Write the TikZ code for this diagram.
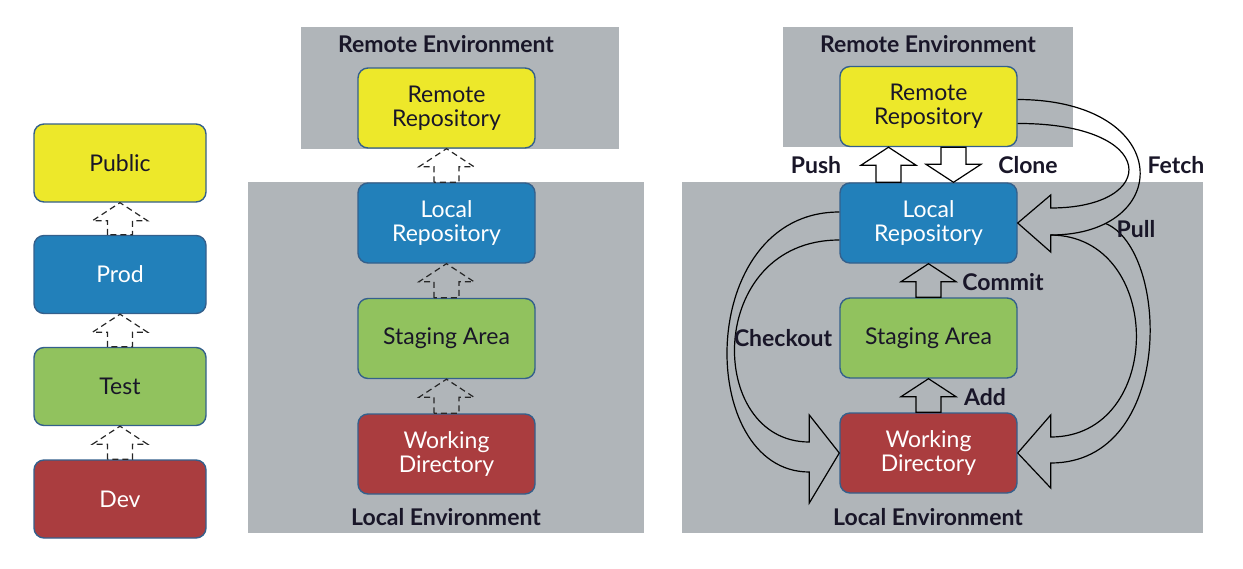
\documentclass[tikz,border=0pt]{standalone}
\usepackage{fontspec}
\setmainfont{Lato}
\usetikzlibrary{calc}
\definecolor{xYellow}{RGB}{237,232,42}
\definecolor{xBlue}{RGB}{34,128,186}
\definecolor{xGreen}{RGB}{145,194,94}
\definecolor{xRed}{RGB}{170,61,63}
\definecolor{xGray}{RGB}{176,181,185}
\definecolor{xEdge}{RGB}{52,96,140}
\definecolor{xInk}{RGB}{25,22,40}
\tikzset{
  stage/.style={draw=xEdge, line width=0.7pt, rounded corners=5pt, align=center, inner sep=2pt,
                minimum width=88.5pt, minimum height=40pt, font=\fontsize{11.5}{11.8}\selectfont},
  tier/.style={stage, minimum width=86pt, minimum height=39pt},
  yel/.style={fill=xYellow, text=xInk},
  blu/.style={fill=xBlue, text=white},
  grn/.style={fill=xGreen, text=xInk},
  rd/.style={fill=xRed, text=white},
  envbg/.style={fill=xGray},
  envlbl/.style={font=\fontsize{11.5}{12}\selectfont\bfseries, text=xInk},
  verb/.style={font=\fontsize{11.5}{12}\selectfont\bfseries, text=xInk},
  promote/.style={semithick, black!85, dash pattern=on 3pt off 2pt},
  cmd/.style={semithick},
  loopband/.style={semithick},
}
% hollow block arrow from #2 (tail) to #3 (tip)
\newcommand{\blockarrow}[3][]{%
  \path (#2) coordinate (ba-s) (#3) coordinate (ba-t)
        ($(ba-t)!9pt!(ba-s)$) coordinate (ba-h);
  \draw[#1] ($(ba-s)!6.25pt!90:(ba-t)$) -- ($(ba-h)!6.25pt!90:(ba-t)$)
        -- ($(ba-h)!13.75pt!90:(ba-t)$) -- (ba-t) -- ($(ba-h)!13.75pt!-90:(ba-t)$)
        -- ($(ba-h)!6.25pt!-90:(ba-t)$) -- ($(ba-s)!6.25pt!-90:(ba-t)$) -- cycle;%
}

\begin{document}
\begin{tikzpicture}[x=0.5pt, y=-0.5pt]
  \useasboundingbox (0,0) rectangle (1243,568);
  % environments
  \fill[envbg] (301,27) rectangle (619,149);
  \fill[envbg] (248,182) rectangle (644,533);
  \fill[envbg] (783,27) rectangle (1073,147);
  \fill[envbg] (682,182) rectangle (1203,533);

  % release tiers
  \node[tier, yel] (pub)  at (120,163)   {Public};
  \node[tier, blu] (prod) at (120,274.5) {Prod};
  \node[tier, grn] (test) at (120,386.5) {Test};
  \node[tier, rd]  (dev)  at (120,499)   {Dev};
  \blockarrow[promote]{prod.north}{pub.south}
  \blockarrow[promote]{test.north}{prod.south}
  \blockarrow[promote]{dev.north}{test.south}

  % git stages
  \node[envlbl] (remEnvA) at (446,44)  {Remote Environment};
  \node[envlbl] (locEnvA) at (446,517) {Local Environment};
  \node[stage, yel] (remA) at (446.5,108)   {Remote\\Repository};
  \node[stage, blu] (locA) at (446.5,223)   {Local\\Repository};
  \node[stage, grn] (stgA) at (446.5,338.5) {Staging Area};
  \node[stage, rd]  (wrkA) at (446.5,454)   {Working\\Directory};
  \blockarrow[promote]{locA.north}{remA.south}
  \blockarrow[promote]{stgA.north}{locA.south}
  \blockarrow[promote]{wrkA.north}{stgA.south}

  % git commands
  \node[envlbl] (remEnvB) at (928,44)  {Remote Environment};
  \node[envlbl] (locEnvB) at (928,517) {Local Environment};
  \node[stage, yel] (remB) at (928.5,106.5) {Remote\\Repository};
  \node[stage, blu] (locB) at (928.5,223)   {Local\\Repository};
  \node[stage, grn] (stgB) at (928.5,338)   {Staging Area};
  \node[stage, rd]  (wrkB) at (928.5,453)   {Working\\Directory};

  \coordinate (pushS)  at ($(locB.north)+(-40,0)$);
  \coordinate (pushT)  at ($(remB.south)+(-40,0)$);
  \coordinate (cloneS) at ($(remB.south)+(25,0)$);
  \coordinate (cloneT) at ($(locB.north)+(25,0)$);
  \blockarrow[cmd]{pushS}{pushT}
  \blockarrow[cmd]{cloneS}{cloneT}
  \blockarrow[cmd]{stgB.north}{locB.south}
  \blockarrow[cmd]{wrkB.north}{stgB.south}

  \draw[loopband] ($(remB.east)+(0,-7)$) .. controls (1175,100) and (1175,235) .. coordinate[pos=0.82] (fork)
        ($(locB.east)+(33,12)$) coordinate (fetchEnd) -- ($(locB.east)+(33,29)$) -- (locB.east)
        -- ($(locB.east)+(33,-28)$) -- ($(locB.east)+(33,-15)$)
        .. controls (1160,208) and (1160,123) .. ($(remB.east)+(0,17)$);
  \draw[loopband] (fetchEnd) .. controls (1165,236) and (1165,437) .. ($(wrkB.east)+(33,-16)$)
        -- ($(wrkB.east)+(33,-38)$) -- (wrkB.east) -- ($(wrkB.east)+(33,35)$) -- ($(wrkB.east)+(33,10)$)
        .. controls (1175,463) and (1170,250) .. (fork);
  \draw[loopband] ($(locB.west)+(0,-11)$) .. controls (695,212) and (695,472) .. ($(wrkB.west)+(-30,19)$)
        -- ($(wrkB.west)+(-30,50)$) -- (wrkB.west) -- ($(wrkB.west)+(-30,-38)$) -- ($(wrkB.west)+(-30,-11)$)
        .. controls (705,442) and (705,240) .. ($(locB.west)+(0,17)$);

  \node[verb] (push)     at (816,165)  {Push};
  \node[verb] (clone)    at (1028,165) {Clone};
  \node[verb] (fetch)    at (1176,165) {Fetch};
  \node[verb] (pull)     at (1136,229) {Pull};
  \node[verb] (commit)   at (1003,282) {Commit};
  \node[verb] (add)      at (985,397)  {Add};
  \node[verb] (checkout) at (783,338)  {Checkout};
\end{tikzpicture}
\end{document}
